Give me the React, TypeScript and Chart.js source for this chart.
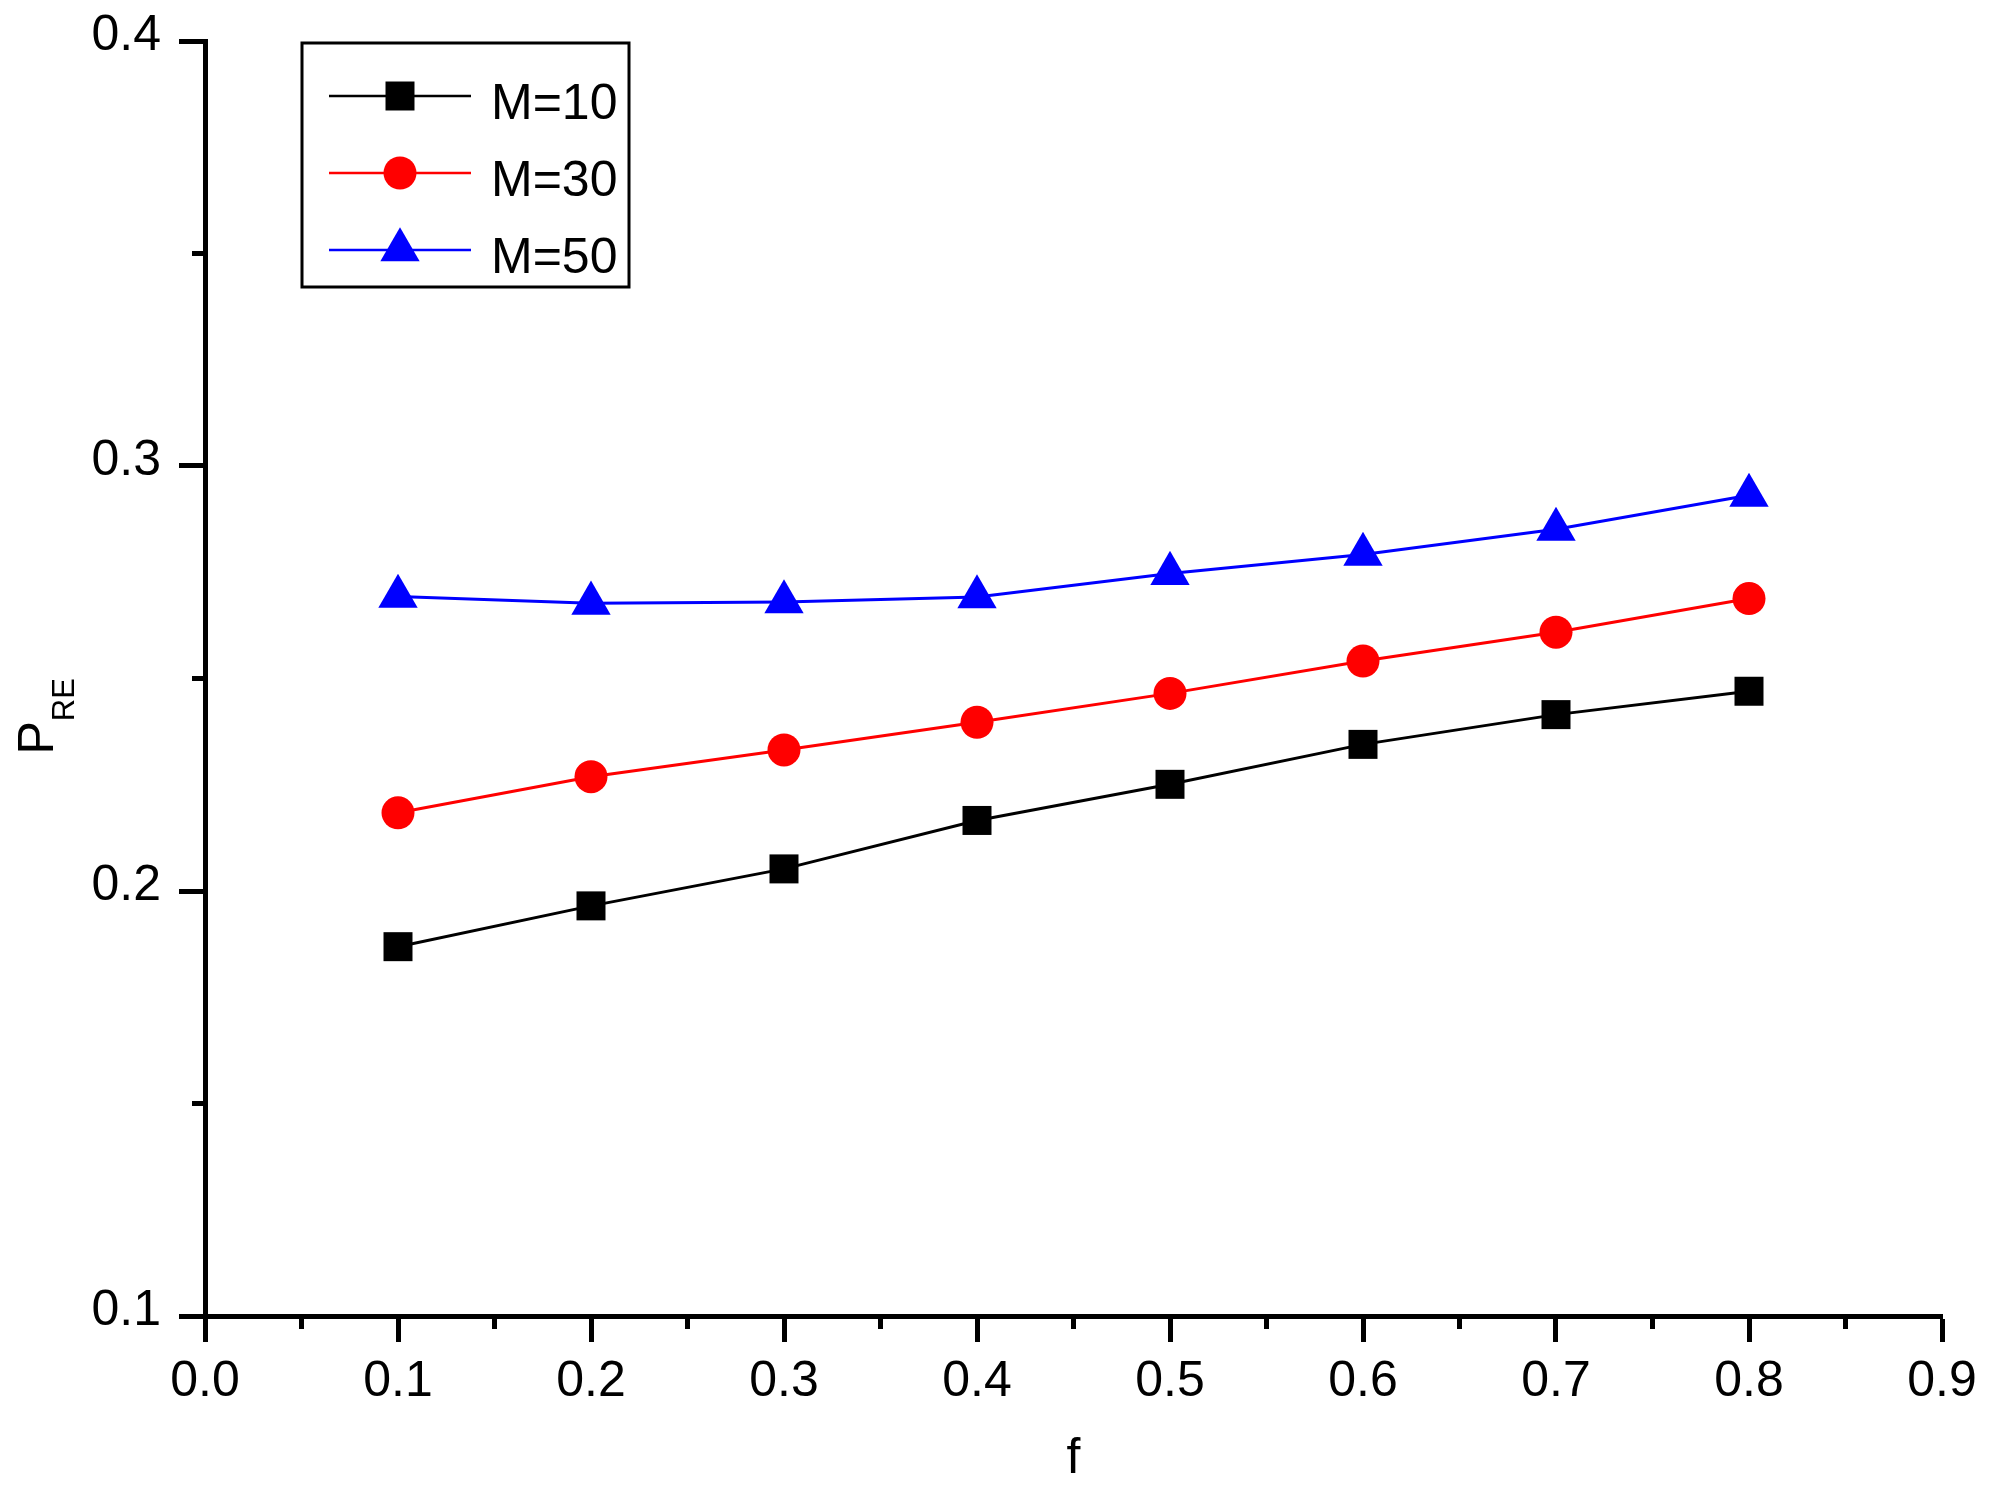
import { useEffect, useRef } from 'react'
import { Chart, registerables } from 'chart.js'
import { drawPoint } from 'chart.js/helpers'

Chart.register(...registerables)

const FONT = '"Liberation Sans", Arial, sans-serif'

// f values on the x axis
const fValues = [0.1, 0.2, 0.3, 0.4, 0.5, 0.6, 0.7, 0.8]
// P_RE
const m10 = [0.1869, 0.1965, 0.2052, 0.2166, 0.2251, 0.2345, 0.2415, 0.247]
const m30 = [0.2184, 0.2269, 0.2332, 0.2397, 0.2465, 0.2541, 0.2609, 0.2688]
const m50 = [0.2693, 0.2677, 0.268, 0.2692, 0.2747, 0.2792, 0.2851, 0.2931]
const seriesLabels = ['M=10', 'M=30', 'M=50']

const xMinorTicks = [0.05, 0.15, 0.25, 0.35, 0.45, 0.55, 0.65, 0.75, 0.85]
const yMinorTicks = [0.15, 0.25, 0.35]

const originLook = {
  id: 'originLook',
  afterDraw(chart: any) {
    const { ctx, chartArea: a, scales } = chart
    ctx.save()

    // minor ticks, Origin style
    ctx.strokeStyle = '#000'
    ctx.lineWidth = 5
    xMinorTicks.forEach((v) => {
      const px = scales.x.getPixelForValue(v)
      ctx.beginPath()
      ctx.moveTo(px, a.bottom)
      ctx.lineTo(px, a.bottom + 13)
      ctx.stroke()
    })
    yMinorTicks.forEach((v) => {
      const py = scales.y.getPixelForValue(v)
      ctx.beginPath()
      ctx.moveTo(a.left - 13, py)
      ctx.lineTo(a.left, py)
      ctx.stroke()
    })

    // axis titles
    ctx.fillStyle = '#000'
    ctx.font = `50px ${FONT}`
    ctx.textAlign = 'center'
    ctx.textBaseline = 'alphabetic'
    ctx.fillText('f', (a.left + a.right) / 2, a.bottom + 157)

    ctx.save()
    ctx.translate(a.left - 152, (a.top + a.bottom) / 2 + 76)
    ctx.rotate(-Math.PI / 2)
    ctx.textAlign = 'left'
    ctx.fillText('P', 0, 0)
    const pw = ctx.measureText('P').width
    ctx.font = `31px ${FONT}`
    ctx.fillText('RE', pw, 21)
    ctx.restore()

    // legend box
    const lx = a.left + 97
    const ly = a.top + 2
    ctx.strokeStyle = '#000'
    ctx.lineWidth = 3
    ctx.strokeRect(lx, ly, 327, 244)
    chart.data.datasets.forEach((ds: any, i: number) => {
      const y = ly + 53 + i * 77
      ctx.strokeStyle = ds.borderColor
      ctx.lineWidth = 2.5
      ctx.beginPath()
      ctx.moveTo(lx + 27, y)
      ctx.lineTo(lx + 169, y)
      ctx.stroke()
      ctx.fillStyle = ds.pointBackgroundColor
      drawPoint(ctx, { pointStyle: ds.pointStyle, radius: ds.pointRadius, borderWidth: 0, rotation: 0 } as any, lx + 98, y)
      ctx.fillStyle = '#000'
      ctx.font = `50px ${FONT}`
      ctx.textAlign = 'left'
      ctx.fillText(ds.label, lx + 189, y + 23)
    })

    ctx.restore()
  },
}

function series(label: string, values: number[], color: string, style: string, radius: number) {
  return {
    label,
    data: fValues.map((f, i) => ({ x: f, y: values[i] })),
    borderColor: color,
    backgroundColor: color,
    pointBackgroundColor: color,
    borderWidth: 3,
    tension: 0,
    pointStyle: style,
    pointRadius: radius,
    pointBorderWidth: 0,
  }
}

export default function App() {
  const canvasRef = useRef<HTMLCanvasElement>(null)
  const chartRef = useRef<Chart | null>(null)

  useEffect(() => {
    if (!canvasRef.current) return
    if (chartRef.current) chartRef.current.destroy()

    Chart.defaults.font.family = FONT
    Chart.defaults.color = '#000'

    chartRef.current = new Chart(canvasRef.current, {
      type: 'line',
      data: {
        datasets: [
          series(seriesLabels[0], m10, '#000000', 'rect', 20.5),
          series(seriesLabels[1], m30, '#ff0000', 'circle', 16.5),
          series(seriesLabels[2], m50, '#0000ff', 'triangle', 22.7),
        ] as any,
      },
      options: {
        animation: false,
        responsive: true,
        maintainAspectRatio: false,
        layout: { padding: { top: 41, right: 48, left: 0, bottom: 0 } },
        plugins: {
          legend: { display: false },
          tooltip: { enabled: false },
        },
        scales: {
          x: {
            type: 'linear',
            min: 0,
            max: 0.9,
            afterFit: (scale: any) => {
              scale.height = 186
            },
            grid: {
              drawOnChartArea: false,
              drawTicks: true,
              tickLength: 26,
              tickWidth: 5,
              tickColor: '#000',
            },
            border: { display: true, width: 5, color: '#000' },
            ticks: {
              stepSize: 0.1,
              padding: 10,
              color: '#000',
              font: { size: 50, family: FONT },
              maxRotation: 0,
              callback: (v: any) => Number(v).toFixed(1),
            },
          },
          y: {
            type: 'linear',
            min: 0.1,
            max: 0.4,
            afterFit: (scale: any) => {
              scale.width = 205
              // keep the plot top where the layout padding puts it
              scale.paddingTop = 0
              scale.paddingBottom = 0
            },
            grid: {
              drawOnChartArea: false,
              drawTicks: true,
              tickLength: 26,
              tickWidth: 5,
              tickColor: '#000',
            },
            border: { display: true, width: 5, color: '#000' },
            ticks: {
              stepSize: 0.1,
              padding: 18,
              labelOffset: -5,
              color: '#000',
              font: { size: 50, family: FONT },
              callback: (v: any) => Number(v).toFixed(1),
            },
          },
        },
      },
      plugins: [originLook],
    })

    return () => {
      if (chartRef.current) {
        chartRef.current.destroy()
        chartRef.current = null
      }
    }
  }, [])

  return (
    <div style={{ position: 'absolute', left: 0, top: 0, width: 1990, height: 1502, background: '#fff' }}>
      <canvas ref={canvasRef} />
    </div>
  )
}
